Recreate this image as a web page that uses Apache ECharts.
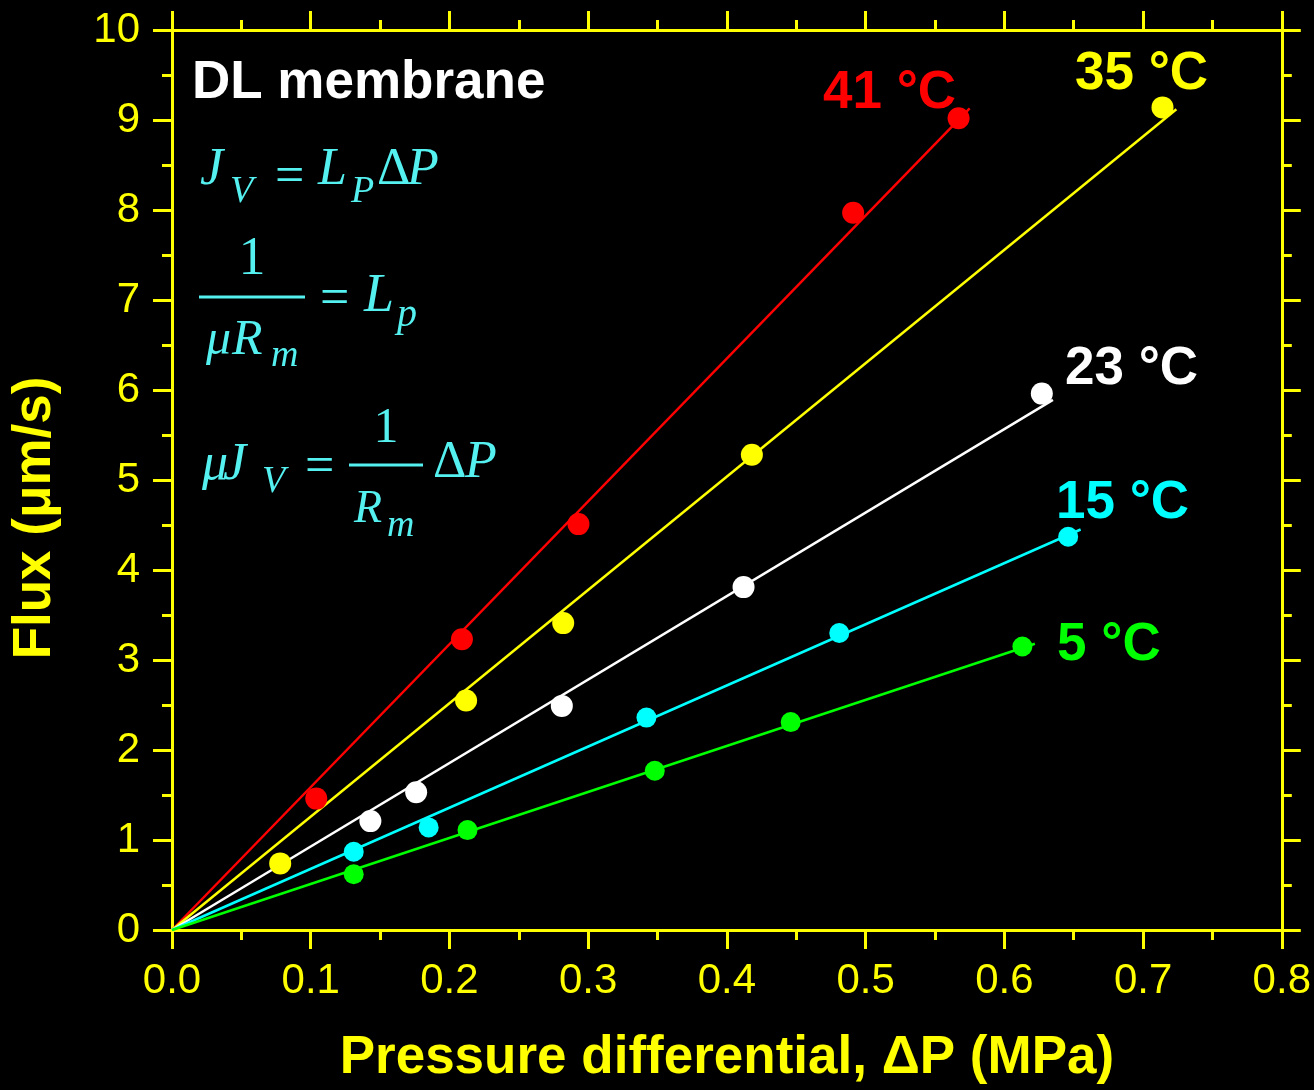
<!DOCTYPE html>
<html>
<head>
<meta charset="utf-8">
<script src="https://cdn.jsdelivr.net/npm/echarts@6/dist/echarts.min.js"></script>
<style>
  html, body { margin: 0; padding: 0; background: #000; }
  #chart { width: 1314px; height: 1090px; }
</style>
</head>
<body>
<div id="chart"></div>
<script>
const t41X = [0.104, 0.209, 0.293, 0.491, 0.567]
const t41Y = [1.46, 3.23, 4.51, 7.97, 9.02]
const t35X = [0.078, 0.212, 0.282, 0.418, 0.714]
const t35Y = [0.74, 2.55, 3.41, 5.28, 9.14]
const t23X = [0.143, 0.176, 0.281, 0.412, 0.627]
const t23Y = [1.21, 1.53, 2.49, 3.81, 5.96]
const t15X = [0.131, 0.185, 0.342, 0.481, 0.646]
const t15Y = [0.87, 1.14, 2.36, 3.30, 4.37]
const t5X = [0.131, 0.213, 0.348, 0.446, 0.613]
const t5Y = [0.62, 1.11, 1.77, 2.31, 3.15]

// fitted lines through the origin: end point of each line
const fitEndX = [0.575, 0.724, 0.635, 0.655, 0.622]
const fitEndY = [9.13, 9.12, 5.89, 4.45, 3.18]

const names = ['41 °C', '35 °C', '23 °C', '15 °C', '5 °C']
const colors = ['#ff0000', '#ffff00', '#ffffff', '#00ffff', '#00ff00']
const sizes = [22, 22, 22, 20, 20]
const pointsX = [t41X, t35X, t23X, t15X, t5X]
const pointsY = [t41Y, t35Y, t23Y, t15Y, t5Y]

const AX = '#ffff00'
const SANS = '"Liberation Sans", Arial, sans-serif'
const SERIF = '"Liberation Serif", "Times New Roman", serif'
const CYAN = '#55f0f0'

const zip = (xs, ys) => xs.map((x, i) => [x, ys[i]])

// axis look shared by all four sides
const axisCommon = {
  axisLine: { show: true, onZero: false, lineStyle: { color: AX, width: 3 } },
  axisTick: { show: true, inside: false, length: 19, lineStyle: { color: AX, width: 3 } },
  minorTick: { show: true, splitNumber: 2, length: 10, lineStyle: { color: AX, width: 3 } },
  splitLine: { show: false },
}

// annotation text, y is the middle of the em box
const txtMid = (text, x, mid, size, opt = {}) => ({
  type: 'text',
  style: {
    text,
    x,
    y: mid,
    fill: opt.color || CYAN,
    font: (opt.italic ? 'italic ' : '') + (opt.bold ? 'bold ' : '') + size + 'px ' + (opt.family || SERIF),
    align: opt.align || 'left',
    textAlign: opt.align || 'left',
    verticalAlign: 'middle',
    textVerticalAlign: 'middle',
  },
  z: 10,
})
// same, y given as baseline
const txt = (text, x, base, size, opt) => txtMid(text, x, base - 0.29 * size, size, opt)
const it = { italic: true }
// "=" placed by the centre of its bars
const eq = (x, center) => txtMid('=', x, center + 3, 52)

const bar = (x1, x2, y) => ({
  type: 'line',
  shape: { x1, y1: y, x2, y2: y },
  style: { stroke: CYAN, lineWidth: 3 },
  z: 10,
})

const label = (text, x, capMid, color) => txtMid(text, x, capMid, 53, { color, bold: true, family: SANS })

const graphics = [
  label('DL membrane', 192, 83, '#ffffff'),
  label('41 °C', 823, 93, colors[0]),
  label('35 °C', 1075, 74, colors[1]),
  label('23 °C', 1065, 369, colors[2]),
  label('15 °C', 1056, 503, colors[3]),
  label('5 °C', 1057, 645, colors[4]),

  // J_V = L_P ΔP
  txt('J', 200, 185, 52, it),
  txt('V', 230, 203, 38, it),
  eq(275, 175),
  txt('L', 318, 185, 52, it),
  txt('P', 351, 203, 38, it),
  txt('Δ', 377, 185, 52),
  txt('P', 407, 185, 52, it),

  // 1/(μR_m) = L_p
  txt('1', 252, 275, 54, { align: 'center' }),
  bar(199, 305, 297),
  txt('μ', 206, 355, 50, it),
  txt('R', 232, 355, 50, it),
  txt('m', 271, 367, 38, it),
  eq(320, 297),
  txt('L', 364, 312, 54, it),
  txt('p', 397, 327, 40, it),

  // μJ_V = (1/R_m) ΔP
  txt('μ', 202, 480, 52, it),
  txt('J', 223, 480, 52, it),
  txt('V', 262, 493, 38, it),
  eq(305, 465),
  txt('1', 386, 443, 50, { align: 'center' }),
  bar(349, 423, 465),
  txt('R', 354, 523, 46, it),
  txt('m', 387, 537, 38, it),
  txt('Δ', 433, 478, 52),
  txt('P', 465, 478, 52, it),

  // y axis title
  {
    type: 'text',
    x: 35,
    y: 518,
    rotation: Math.PI / 2,
    style: {
      text: 'Flux (μm/s)',
      x: 0,
      y: 0,
      fill: AX,
      font: 'bold 53px ' + SANS,
      align: 'center',
      textAlign: 'center',
      verticalAlign: 'middle',
      textVerticalAlign: 'middle',
    },
  },
]

const series = []
names.forEach((n, i) => {
  series.push({
    name: n + ' fit',
    type: 'line',
    data: [[0, 0], [fitEndX[i], fitEndY[i]]],
    showSymbol: false,
    lineStyle: { color: colors[i], width: 2.5 },
    z: 2,
    animation: false,
  })
})
names.forEach((n, i) => {
  series.push({
    name: n,
    type: 'scatter',
    data: zip(pointsX[i], pointsY[i]),
    symbol: 'circle',
    symbolSize: sizes[i],
    itemStyle: { color: colors[i], opacity: 1 },
    z: 3,
    animation: false,
  })
})

const chart = echarts.init(document.getElementById('chart'))
chart.setOption({
  backgroundColor: '#000',
  animation: false,
  grid: { left: 172, right: 30, top: 30, bottom: 158 },
  xAxis: [
    {
      ...axisCommon,
      type: 'value',
      position: 'bottom',
      min: 0,
      max: 0.8,
      interval: 0.1,
      axisLabel: {
        color: AX,
        fontSize: 42,
        fontFamily: SANS,
        margin: 30,
        formatter: (v) => v.toFixed(1),
      },
      name: 'Pressure differential, ΔP (MPa)',
      nameLocation: 'middle',
      nameGap: 102,
      nameTextStyle: { color: AX, fontSize: 53, fontWeight: 'bold', fontFamily: SANS },
    },
    {
      ...axisCommon,
      type: 'value',
      position: 'top',
      min: 0,
      max: 0.8,
      interval: 0.1,
      axisLabel: { show: false },
    },
  ],
  yAxis: [
    {
      ...axisCommon,
      type: 'value',
      position: 'left',
      min: 0,
      max: 10,
      interval: 1,
      axisLabel: { color: AX, fontSize: 42, fontFamily: SANS, margin: 32 },
    },
    {
      ...axisCommon,
      type: 'value',
      position: 'right',
      min: 0,
      max: 10,
      interval: 1,
      axisLabel: { show: false },
    },
  ],
  series,
  graphic: graphics,
})
</script>
</body>
</html>
